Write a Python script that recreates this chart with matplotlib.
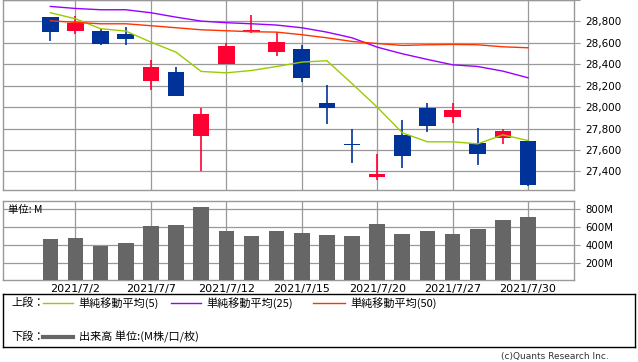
import matplotlib
matplotlib.use("Agg")
import matplotlib.pyplot as plt
from matplotlib.ticker import FuncFormatter
from matplotlib.lines import Line2D

# ---- data ----
dates = ["7/1", "7/2", "7/5", "7/6", "7/7", "7/8", "7/9", "7/12", "7/13", "7/14",
         "7/15", "7/16", "7/19", "7/20", "7/21", "7/26", "7/27", "7/28", "7/29", "7/30"]
opens = [28837, 28706, 28707, 28679, 28248, 28332, 27728, 28401, 28697, 28513,
         28538, 28034, 27657, 27345, 27744, 27990, 27906, 27666, 27709, 27679]
highs = [28840, 28847, 28728, 28744, 28436, 28370, 27996, 28594, 28856, 28700,
         28576, 28202, 27793, 27563, 27884, 28036, 28034, 27809, 27793, 27694]
lows = [28613, 28681, 28578, 28578, 28158, 28108, 27407, 28401, 28688, 28476,
        28233, 27840, 27482, 27317, 27429, 27772, 27850, 27457, 27653, 27261]
closes = [28697, 28784, 28588, 28635, 28370, 28108, 27940, 28566, 28716, 28604,
          28270, 27990, 27644, 27380, 27541, 27819, 27971, 27566, 27781, 27270]
ma5 = [28881, 28825, 28732, 28710, 28607, 28513, 28333, 28320, 28342, 28379,
       28420, 28433, 28220, 28000, 27760, 27676, 27676, 27657, 27741, 27688]
ma25 = [28940, 28921, 28909, 28909, 28881, 28840, 28803, 28788, 28778, 28766,
        28741, 28700, 28647, 28560, 28498, 28445, 28395, 28379, 28336, 28274]
ma50 = [28806, 28791, 28778, 28778, 28760, 28741, 28722, 28713, 28704, 28700,
        28676, 28647, 28613, 28594, 28576, 28582, 28585, 28582, 28563, 28554]
volumes = [472, 483, 394, 424, 615, 627, 825, 560, 505, 560,
           538, 516, 505, 638, 527, 560, 527, 582, 682, 715]
tick_idx = [1, 4, 7, 10, 13, 16, 19]
tick_labels = ["2021/7/2", "2021/7/7", "2021/7/12", "2021/7/15",
               "2021/7/20", "2021/7/27", "2021/7/30"]
price_ticks = [27400, 27600, 27800, 28000, 28200, 28400, 28600, 28800, 29000]
vol_ticks = [200, 400, 600, 800]

W, H = 638, 362
def fx(p): return p / W
def fy(p): return 1 - p / H

GRID = "#999999"
UP, DOWN = "#ff0033", "#003399"
JP = ["Noto Sans CJK JP", "DejaVu Sans"]

fig = plt.figure(figsize=(W / 100, H / 100), dpi=100)
fig.patch.set_facecolor("white")

left_px, right_px = 3.3, 574
ax1 = fig.add_axes([fx(left_px), fy(190), fx(right_px - left_px), 190 / H])
ax2 = fig.add_axes([fx(left_px), fy(280.3), fx(right_px - left_px), 79.3 / H])

x = list(range(len(dates)))
xlim = (-1.87, 20.83)

for ax in (ax1, ax2):
    ax.set_xlim(*xlim)
    for s in ax.spines.values():
        s.set_color(GRID)
        s.set_linewidth(1.0)
    ax.set_xticks(tick_idx)
    ax.grid(True, color=GRID, linewidth=0.9)
    ax.set_axisbelow(True)
    ax.yaxis.tick_right()
    ax.tick_params(axis="y", length=4, color=GRID, pad=4, labelsize=7.5)

# candles
cols = [UP if c >= o else DOWN for o, c in zip(opens, closes)]
ax1.vlines(x, lows, highs, colors=cols, linewidth=1.2, zorder=2)
bodies = [max(abs(c - o), 12) for o, c in zip(opens, closes)]
bottoms = [min(o, c) for o, c in zip(opens, closes)]
ax1.bar(x, bodies, bottom=bottoms, width=0.66, color=cols, linewidth=0, zorder=3)

ax1.plot(x, ma5, color="#99cc00", linewidth=1.0, zorder=4)
ax1.plot(x, ma25, color="#9900ff", linewidth=1.0, zorder=4)
ax1.plot(x, ma50, color="#ff3300", linewidth=1.0, zorder=4)

ax1.set_ylim(27226, 28996)
ax1.set_yticks(price_ticks)
ax1.yaxis.set_major_formatter(FuncFormatter(lambda v, p: f"{int(v):,}" if v < 28900 else ""))
ax1.tick_params(axis="x", length=0, labelbottom=False)

# volume
ax2.bar(x, volumes, width=0.62, color="#666666", linewidth=0, zorder=3)
ax2.set_ylim(12, 888)
ax2.set_yticks(vol_ticks)
ax2.set_yticklabels([f"{v}M" for v in vol_ticks])
ax2.set_xticklabels(tick_labels)
ax2.tick_params(axis="x", length=0, pad=2.5, labelsize=8)
ax2.tick_params(axis="y", labelsize=7.3)

fig.text(fx(8), fy(210), "単位: M", family=JP, fontsize=7.5, va="center", ha="left")

# legend box
lax = fig.add_axes([fx(3), fy(347), fx(632), 53 / H])
lax.set_xlim(0, W); lax.set_ylim(H, 0)
lax.set_xticks([]); lax.set_yticks([])
for s in lax.spines.values():
    s.set_color("black"); s.set_linewidth(1.0)
lax.patch.set_alpha(0)

def legline(x0, x1, y, color, lw):
    fig.add_artist(Line2D([fx(x0), fx(x1)], [fy(y), fy(y)], color=color,
                          linewidth=lw, transform=fig.transFigure))

fig.text(fx(11), fy(303), "上段：", family=JP, fontsize=8, va="center")
legline(43, 73, 303, "#99cc00", 1.0)
fig.text(fx(78), fy(303), "単純移動平均(5)", family=JP, fontsize=8, va="center")
legline(171, 201, 303, "#9900ff", 1.0)
fig.text(fx(206), fy(303), "単純移動平均(25)", family=JP, fontsize=8, va="center")
legline(313, 345, 303, "#ff3300", 1.0)
fig.text(fx(350), fy(303), "単純移動平均(50)", family=JP, fontsize=8, va="center")

fig.text(fx(11), fy(337), "下段：", family=JP, fontsize=8, va="center")
legline(43, 73, 337, "#666666", 3.0)
fig.text(fx(79), fy(337), "出来高 単位:(M株/口/枚)", family=JP, fontsize=8, va="center")

fig.text(fx(609), fy(357), "(c)Quants Research Inc.", fontsize=6.5, ha="right",
         va="center", color="#333333")

fig.savefig("out.png", dpi=100)
